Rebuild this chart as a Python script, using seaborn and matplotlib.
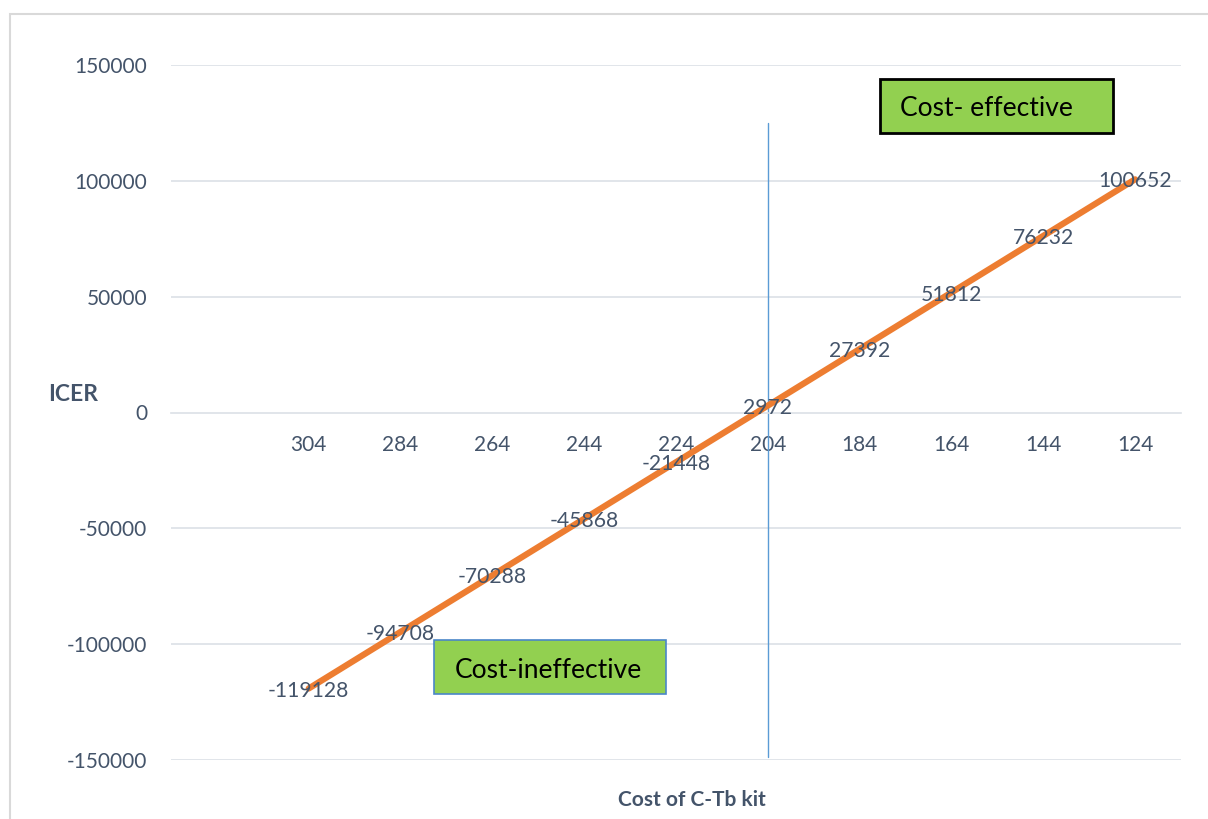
import numpy as np
import pandas as pd
import matplotlib
matplotlib.use("Agg")
import matplotlib.pyplot as plt
from matplotlib.patches import Rectangle
from matplotlib.ticker import FixedLocator
import seaborn as sns

# Sensitivity of ICER to the price of the C-Tb kit
kit_cost = ["304", "284", "264", "244", "224", "204", "184", "164", "144", "124"]
icer = [-119128, -94708, -70288, -45868, -21448, 2972, 27392, 51812, 76232, 100652]
y_ticks = [-150000, -100000, -50000, 0, 50000, 100000, 150000]
threshold_cost = "204"
threshold_span = [-148500, 125000]

sns.set_style("white")
plt.rcParams["font.family"] = ["Lato", "DejaVu Sans"]

TEXT = "#44546A"
GRID = "#DCE0E6"

fig = plt.figure(figsize=(12.08, 8.19), dpi=100)
ax = fig.add_axes([171 / 1208, 59 / 819, 1010 / 1208, 695 / 819])

df = pd.DataFrame({"cost": kit_cost, "icer": icer})
sns.lineplot(data=df, x="cost", y="icer", sort=False, color="#ED7D31",
             linewidth=4.5, ax=ax, zorder=3)

# data labels centred on each point
for c, v in zip(kit_cost, icer):
    ax.annotate(f"{v:d}", (kit_cost.index(c), v), xytext=(0, -1.5),
                textcoords="offset points", ha="center", va="center",
                fontsize=15.2, color=TEXT, zorder=4)

# vertical threshold line
xi = kit_cost.index(threshold_cost)
ax.plot([xi, xi], threshold_span, color="#5B9BD5", lw=1.0, zorder=2)

ax.set_xlim(-1.5, len(kit_cost) - 0.5)
ax.set_ylim(y_ticks[0], y_ticks[-1])
ax.set_yticks(y_ticks)
ax.set_yticklabels([str(t) for t in y_ticks])
for t in y_ticks:
    if t != 0:
        ax.axhline(t, color=GRID, lw=1.2, zorder=1)

for s in ["top", "right", "left"]:
    ax.spines[s].set_visible(False)
ax.spines["bottom"].set_position(("data", 0))
ax.spines["bottom"].set_color(GRID)
ax.spines["bottom"].set_linewidth(1.2)

ax.xaxis.set_minor_locator(FixedLocator(np.arange(-1.5, len(kit_cost), 1.0)))
ax.tick_params(axis="x", which="minor", length=5, width=1.2, color=GRID,
               direction="out")
ax.tick_params(axis="x", which="major", length=0, pad=16.5, labelsize=15,
               labelcolor=TEXT)
ax.tick_params(axis="y", length=0, pad=17, labelsize=15, labelcolor=TEXT)
ax.set_xlabel("")
ax.set_ylabel("")

# axis titles
fig.text(73 / 1208, 1 - 394 / 819, "ICER", ha="center", va="center",
         fontsize=16.5, fontweight="bold", color=TEXT)
fig.text(692 / 1208, 1 - 800 / 819, "Cost of C-Tb kit", ha="center",
         va="center", fontsize=15, fontweight="bold", color=TEXT)

# annotation boxes
def px_box(x0, y0, x1, y1, ec, lw):
    fig.patches.append(Rectangle((x0 / 1208, 1 - y1 / 819), (x1 - x0) / 1208,
                                 (y1 - y0) / 819, transform=fig.transFigure,
                                 facecolor="#92D050", edgecolor=ec, lw=lw,
                                 zorder=5))

px_box(880, 79, 1113, 133, "black", 2.0)
fig.text(986 / 1208, 1 - 109 / 819, "Cost- effective", ha="center",
         va="center", fontsize=19, color="black", zorder=6)
px_box(434, 640, 666, 694, "#4A86C8", 1.2)
fig.text(548 / 1208, 1 - 670 / 819, "Cost-ineffective", ha="center",
         va="center", fontsize=19, color="black", zorder=6)

# outer chart frame
fig.patches.append(Rectangle((10 / 1208, -0.05), 1.2, (819 - 14) / 819 + 0.05,
                             transform=fig.transFigure, fill=False,
                             edgecolor="#D9D9D9", lw=1.5, zorder=0))

fig.savefig("out.png", dpi=100)
